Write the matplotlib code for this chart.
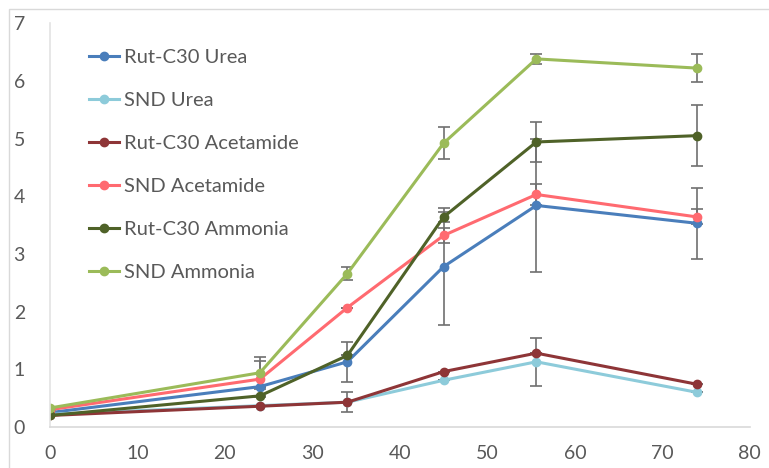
import matplotlib
matplotlib.use("Agg")
import matplotlib.pyplot as plt
from matplotlib.patches import Rectangle

plt.rcParams['font.family'] = ['Lato', 'DejaVu Sans']

# sampling times
hours = [0, 24, 34, 45, 55.6, 74]

names = ["Rut-C30 Urea", "SND Urea", "Rut-C30 Acetamide",
         "SND Acetamide", "Rut-C30 Ammonia", "SND Ammonia"]

rut_urea = [0.25, 0.70, 1.13, 2.78, 3.84, 3.53]
snd_urea = [0.22, 0.37, 0.43, 0.81, 1.13, 0.60]
rut_acet = [0.20, 0.36, 0.43, 0.96, 1.28, 0.74]
snd_acet = [0.30, 0.83, 2.07, 3.32, 4.03, 3.64]
rut_ammo = [0.20, 0.54, 1.24, 3.64, 4.94, 5.05]
snd_ammo = [0.33, 0.94, 2.66, 4.92, 6.38, 6.22]

err_rut_urea = [0, 0, 0.35, 1.02, 1.15, 0.61]
err_snd_urea = [0, 0, 0, 0, 0.42, 0]
err_rut_acet = [0, 0, 0.17, 0, 0, 0]
err_snd_acet = [0, 0.31, 0, 0.13, 0.19, 0.13]
err_rut_ammo = [0, 0, 0, 0.09, 0.35, 0.53]
err_snd_ammo = [0, 0.28, 0.11, 0.28, 0.08, 0.24]

series = [rut_urea, snd_urea, rut_acet, snd_acet, rut_ammo, snd_ammo]
errors = [err_rut_urea, err_snd_urea, err_rut_acet, err_snd_acet, err_rut_ammo, err_snd_ammo]
colors = ["#4A7EBB", "#8DCBDA", "#8E3537", "#FF6A70", "#4F6228", "#9BBB59"]

fig = plt.figure(figsize=(7.69, 4.68), dpi=100)
ax = fig.add_axes([0.065, 0.0876, 0.91, 0.863])

# outer chart border
fig.patches.append(Rectangle((9 / 769, -0.1), 1.2, 1 - 9 / 468 + 0.1,
                             transform=fig.transFigure, fill=False,
                             edgecolor="#D9D9D9", linewidth=1))

handles = []
for y, e, c, n in zip(series, errors, colors, names):
    cont = ax.errorbar(hours, y, yerr=e, color=c, marker="o", markersize=6,
                       linewidth=2.2, label=n, ecolor="#6F6F6F", elinewidth=1.2,
                       capsize=4, capthick=1.2)
    handles.append(cont[0])

ax.set_xlim(0, 80)
ax.set_ylim(0, 7)
ax.set_xticks(range(0, 81, 10))
ax.set_yticks(range(0, 8))
ax.tick_params(length=0, labelsize=14, labelcolor="#595959")
ax.tick_params(axis="y", pad=18)
ax.tick_params(axis="x", pad=13)
for s in ["top", "right"]:
    ax.spines[s].set_visible(False)
for s in ["left", "bottom"]:
    ax.spines[s].set_color("#D9D9D9")
    ax.spines[s].set_linewidth(1.2)
ax.spines["left"].set_color("#E3E3E3")

ax.legend(handles, names, loc="upper left", bbox_to_anchor=(0.044, 0.955),
          frameon=False, fontsize=14.5, labelspacing=1.28, handlelength=1.5,
          handletextpad=0.25, labelcolor="#595959", borderaxespad=0)

fig.savefig("out.png", dpi=100)
